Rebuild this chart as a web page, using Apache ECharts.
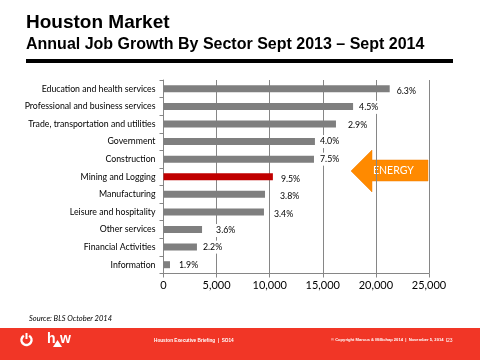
<!DOCTYPE html>
<html><head><meta charset="utf-8">
<style>html,body{margin:0;padding:0;background:#fff}#c{width:480px;height:360px}</style>
<script src="https://cdn.jsdelivr.net/npm/echarts@6/dist/echarts.min.js"></script>
</head><body><div id="c"></div>
<script>
const categories = ["Education and health services","Professional and business services","Trade, transportation and utilities","Government","Construction","Mining and Logging","Manufacturing","Leisure and hospitality","Other services","Financial Activities","Information"];
const jobs = [21300,17850,16240,14260,14170,10300,9560,9460,3630,3150,610];
const growthLabels = ["6.3%","4.5%","2.9%","4.0%","7.5%","9.5%","3.8%","3.4%","3.6%","2.2%","1.9%"];
const labelGaps = [6,5,11,4,5,7,14,9,13,5,8];
const labelDrops = [2,1,1,0,0,2,2,2,1,0,0];
const highlight = "Mining and Logging";

const font = "Lato, 'Open Sans', sans-serif";
const sans = "'Liberation Sans',Arial,sans-serif";
const chart = echarts.init(document.getElementById('c'), null, {renderer:'canvas'});
chart.setOption({
  animation:false,
  backgroundColor:'#fff',
  grid:{left:163.5,right:51,top:80,bottom:86.5,containLabel:false},
  xAxis:{type:'value',min:0,max:25000,interval:5000,
    axisLine:{show:true,lineStyle:{color:'#868686',width:1}},
    axisTick:{show:true,length:4,lineStyle:{color:'#868686'}},
    splitLine:{show:true,lineStyle:{color:'#868686',width:1}},
    axisLabel:{color:'#000',fontFamily:font,fontSize:11,margin:6,
      formatter:v=>v.toLocaleString('en-US')}},
  yAxis:{type:'category',inverse:true,data:categories,
    axisLine:{show:true,lineStyle:{color:'#868686',width:1}},
    axisTick:{show:true,length:4,alignWithLabel:false,lineStyle:{color:'#868686'}},
    axisLabel:{color:'#000',fontFamily:font,fontSize:8.75,margin:8,interval:0}},
  series:[{type:'bar',barWidth:7,
    data:jobs.map((v,i)=>({value:v,
      itemStyle:{color:categories[i]===highlight?'#C00000':'#7F7F7F'},
      label:{show:true,position:'right',distance:labelGaps[i],offset:[0,labelDrops[i]],formatter:growthLabels[i],
        color:'#000',fontFamily:font,fontSize:8.75,backgroundColor:'#fff',padding:[2,1]}})),
  }],
  graphic:[
    {type:'text',left:26,top:13,style:{text:'Houston Market',fontFamily:sans,fontWeight:'bold',fontSize:19,fill:'#000'}},
    {type:'text',left:26,top:36.5,style:{text:'Annual Job Growth By Sector Sept 2013 – Sept 2014',fontFamily:sans,fontWeight:'bold',fontSize:16,fill:'#000'}},
    {type:'rect',shape:{x:26,y:59,width:427,height:4},style:{fill:'#000'}},
    {type:'polygon',shape:{points:[[351,171],[372,150],[372,160],[428,160],[428,181],[372,181],[372,192]]},
      style:{fill:'#FF8A00',stroke:'#F07C00',lineWidth:0.5}},
    {type:'text',left:373,top:165,style:{text:'ENERGY',fontFamily:font,fontSize:10.5,fill:'#fff'}},
    {type:'text',left:29,top:315,style:{text:'Source: BLS October 2014',fontFamily:font,fontStyle:'italic',fontSize:7.5,fill:'#000'}},
    {type:'rect',shape:{x:0,y:328,width:480,height:32},style:{fill:'#F13626'}},
    {type:'arc',shape:{cx:26.5,cy:340,r:5,startAngle:-Math.PI/2+0.55,endAngle:-Math.PI/2-0.55,clockwise:true},style:{stroke:'#fff',fill:null,lineWidth:2.5}},
    {type:'rect',shape:{x:25.5,y:333,width:2,height:6},style:{fill:'#fff'}},
    {type:'text',left:47,top:332,style:{text:'h',fontFamily:sans,fontWeight:'bold',fontSize:14,fill:'#fff'}},
    {type:'polygon',shape:{points:[[53,347],[57.5,340],[62,347]]},style:{fill:'#fff'}},
    {type:'text',left:60,top:332,style:{text:'w',fontFamily:sans,fontWeight:'bold',fontSize:14,fill:'#fff'}},
    {type:'text',left:154,top:338,style:{text:'Houston Executive Briefing  |  SO14',fontFamily:sans,fontWeight:'bold',fontSize:4.7,fill:'#fff'}},
    {type:'text',left:331,top:338,style:{text:'© Copyright Marcus & Millichap 2014  |  November 5, 2014  |',fontFamily:sans,fontWeight:'bold',fontSize:4.1,fill:'#fff'}},
    {type:'text',left:447,top:338,style:{text:'23',fontFamily:sans,fontSize:5,fill:'#fff'}}
  ]
});
</script></body></html>
